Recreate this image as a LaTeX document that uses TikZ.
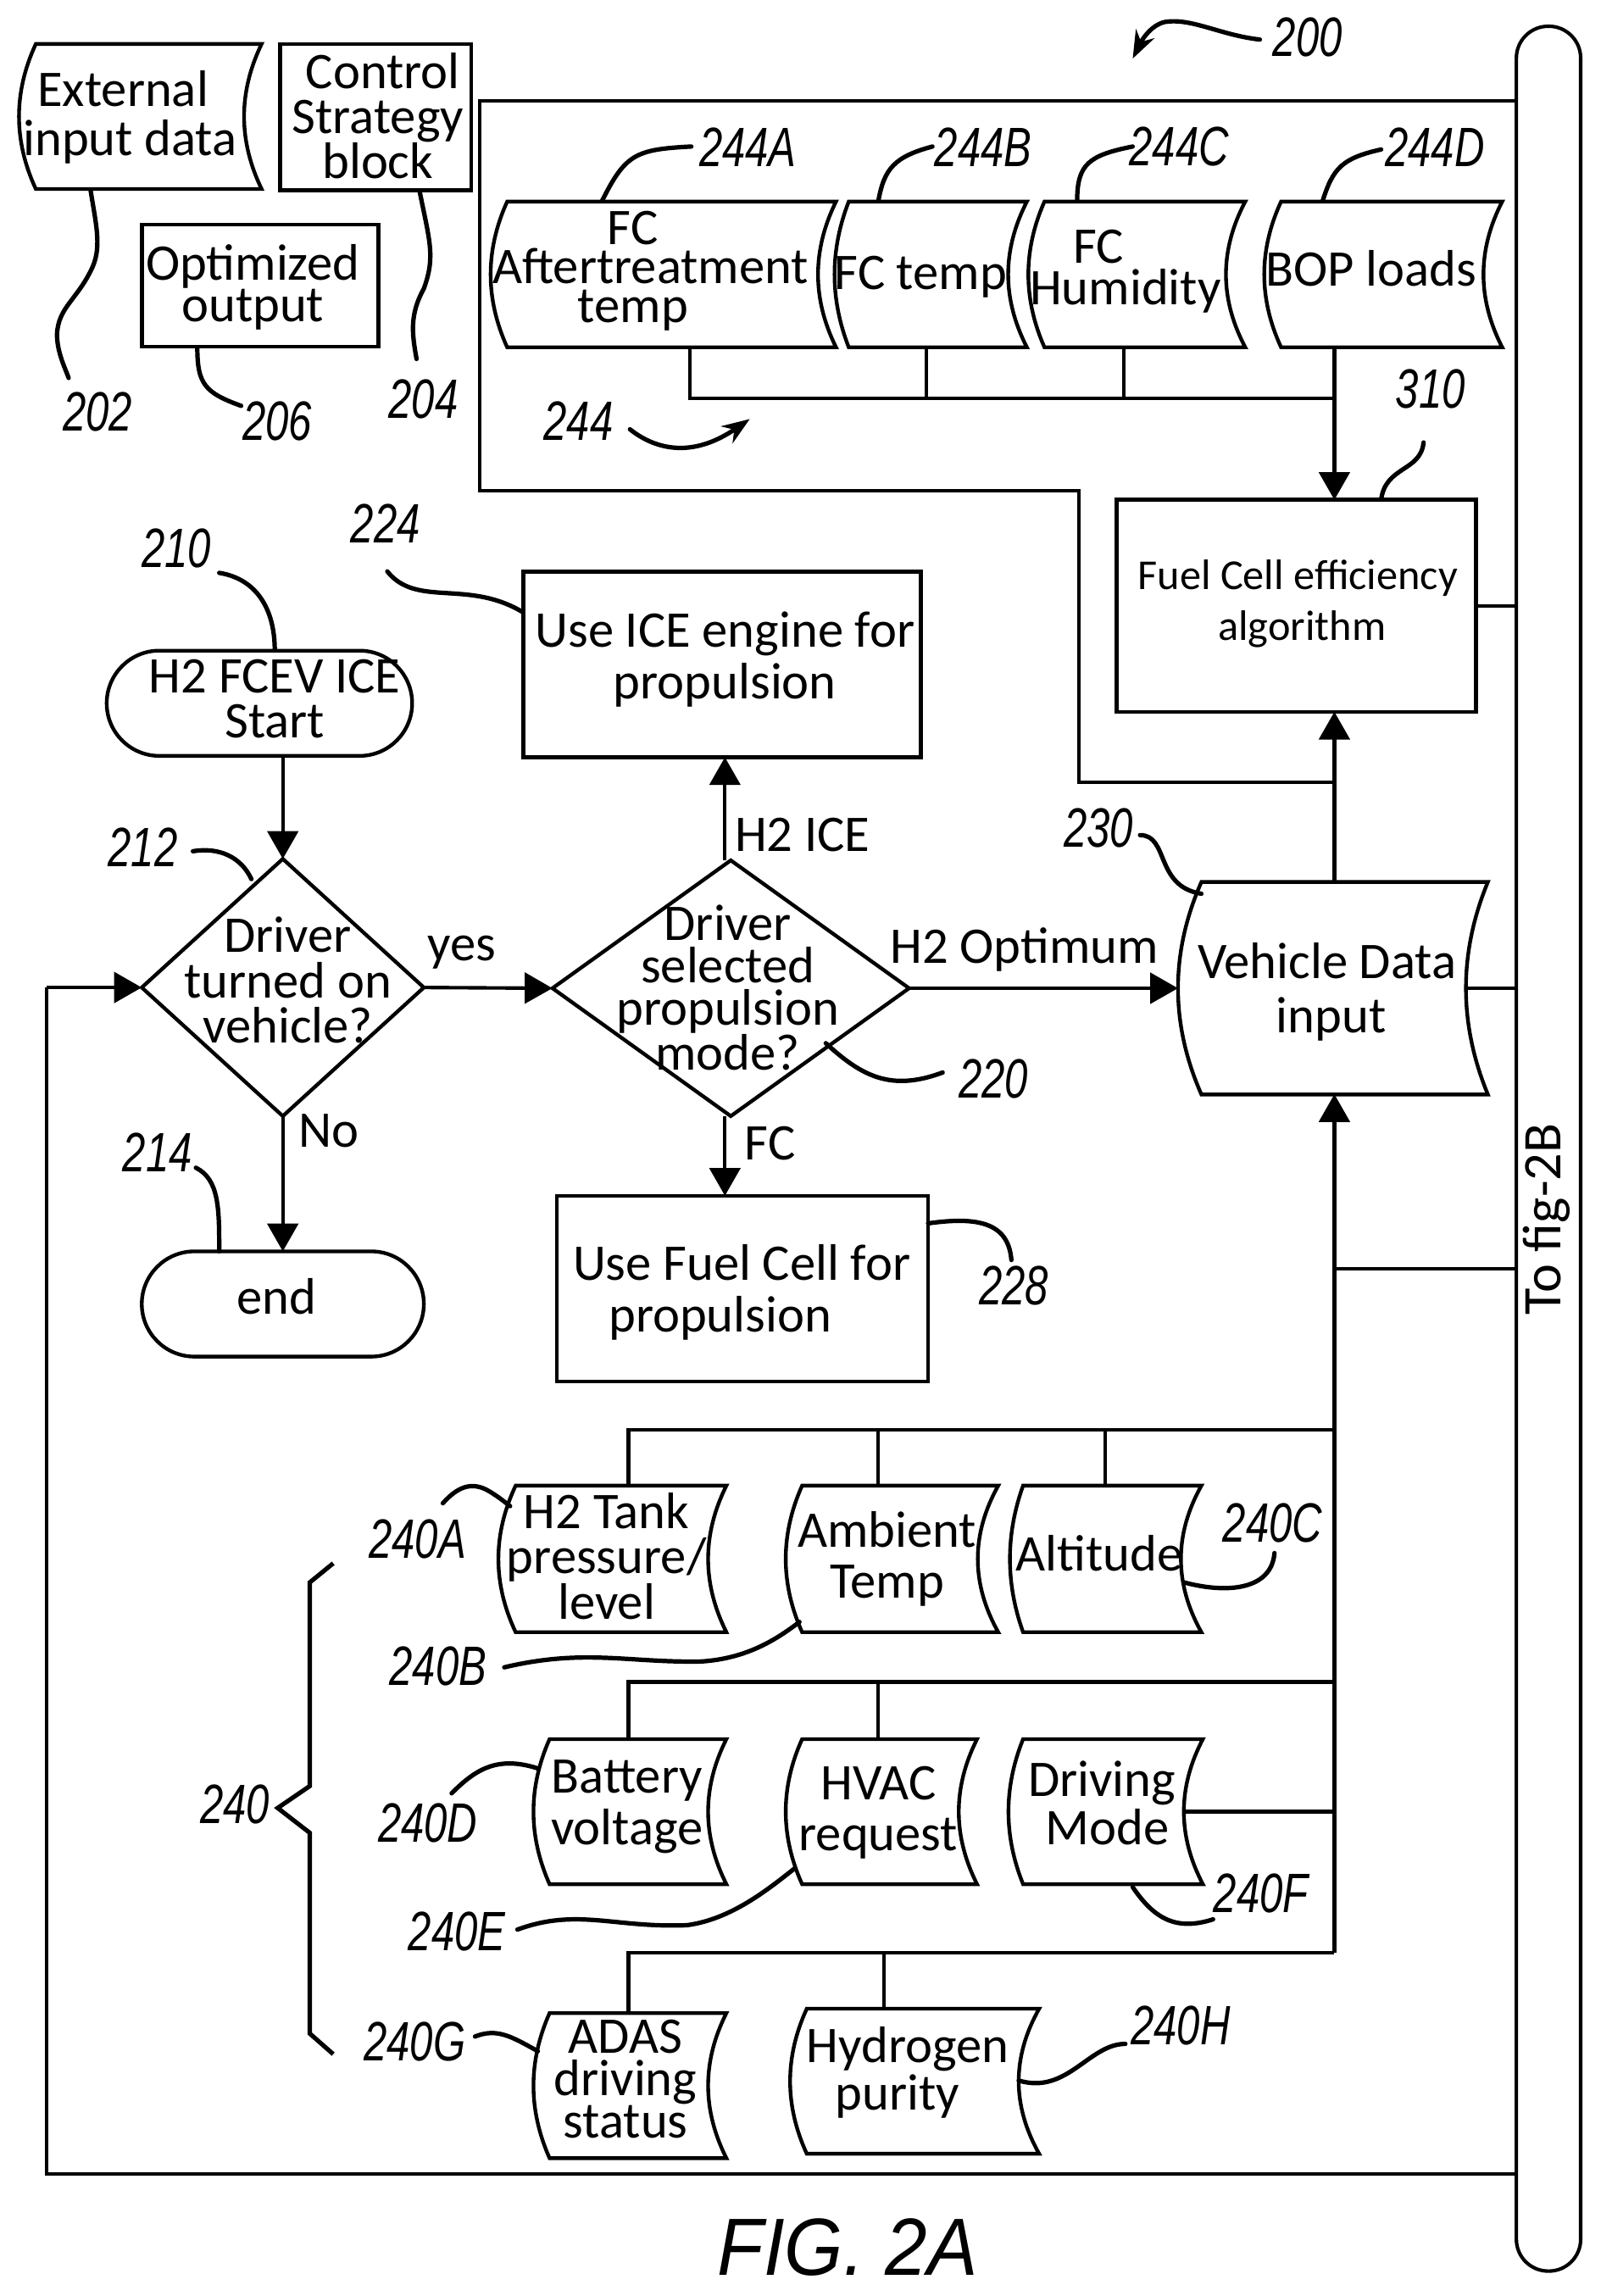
\documentclass[tikz,border=0pt]{standalone}
\usepackage{fontspec}
\usetikzlibrary{arrows.meta,shapes.geometric,shapes.misc}
\setmainfont{Carlito}
\newfontfamily\numf[FakeStretch=0.75]{Liberation Sans}
\newfontfamily\figf[FakeStretch=0.93]{Liberation Sans}
\tikzset{
  x=0.05cm,y=-0.050125cm,
  line/.style={line width=3.4pt,line join=miter},
  arrowline/.style={line,-{Triangle[length=0.95cm,width=1.05cm]}},
  lead/.style={line width=4.3pt,line cap=round},
  tipped/.style={lead,-{Stealth[length=0.95cm,width=0.7cm]}},
  boxn/.style={draw,line width=3.8pt,rectangle,inner sep=0pt,outer sep=0pt},
  pill/.style={draw,line width=3.6pt,rounded rectangle,inner sep=0pt,outer sep=0pt},
  dia/.style={draw,line width=3.6pt,diamond,inner sep=0pt,outer sep=0pt,aspect=1.1},
  docshape/.style={line width=3.6pt,line join=miter},
  hold/.style={rectangle,inner sep=0pt,outer sep=0pt},
  tx/.style 2 args={font=\fontsize{#1}{#2}\selectfont,align=center,inner sep=0pt,outer sep=0pt,yshift=-3pt},
  num/.style={font=\fontsize{54}{54}\selectfont\numf\itshape,inner sep=0pt,outer sep=0pt,xshift=1pt,yshift=1pt},
}
\newcommand\docbox[7]{%
  \node[hold,minimum width={(#5-#2)*0.05cm},minimum height={(#7-#6)*0.05cm}] (#1) at ({(#2+#5)/2},{(#6+#7)/2}) {};
  \draw[docshape] (#3,#6) -- (#4,#6)
    .. controls ({#5+(#4-#5)/3},{#6+(#7-#6)/6}) and (#5,{(#6+#7)/2-(#7-#6)/6}) .. (#5,{(#6+#7)/2})
    .. controls (#5,{(#6+#7)/2+(#7-#6)/6}) and ({#5+(#4-#5)/3},{#7-(#7-#6)/6}) .. (#4,#7)
    -- (#3,#7)
    .. controls ({#2+(#3-#2)/3},{#7-(#7-#6)/6}) and (#2,{(#6+#7)/2+(#7-#6)/6}) .. (#2,{(#6+#7)/2})
    .. controls (#2,{(#6+#7)/2-(#7-#6)/6}) and ({#2+(#3-#2)/3},{#6+(#7-#6)/6}) .. cycle;
}
\newcommand\leader[4]{\coordinate (#1s) at #2; \coordinate (#1e) at #3; \draw[lead] (#1s) #4 (#1e);}
\begin{document}
\begin{tikzpicture}
\path[fill=white,use as bounding box] (0,0) rectangle (1095,1567.1);

% bus
\node[draw,line width=3.4pt,rectangle,rounded corners=1.09cm,minimum width=2.2cm,minimum height=76.8cm,inner sep=0pt,outer sep=0pt] (bus) at (1059.5,784) {};
\node[tx={53}{53},rotate=90] (busT) at (1058,830) {To fig-2B};

% legend
\docbox{ext}{13}{24.5}{179}{167}{30}{129}
\node[tx={50}{48}] (extT) at (89,78) {External\hspace*{14pt}\\input data};
\node[boxn,minimum width=6.55cm,minimum height=5cm] (ctl) at (257,80) {};
\node[tx={50}{44}] (ctlT) at (258.5,77) {\hspace*{10pt}Control\\Strategy\\block};
\node[boxn,minimum width=8.1cm,minimum height=4.17cm] (opt) at (178,195) {};
\node[tx={50}{40}] (optT) at (173,194) {Optimized\\output};

% FC docs
\docbox{fa}{335.7}{347}{572}{559.7}{137.6}{237}
\node[tx={50}{38}] (faT) at (445,183) {FC\hspace*{34pt}\\Aftertreatment\\temp\hspace*{34pt}};
\docbox{ft}{571}{580.7}{702.6}{689.8}{137.6}{237}
\node[tx={50}{47}] (ftT) at (630,187) {FC temp};
\docbox{fh}{703.6}{714.6}{852}{838.8}{137.6}{237}
\node[tx={50}{40}] (fhT) at (770,183) {FC\hspace*{52pt}\\Humidity};
\docbox{bop}{865}{876.5}{1027.8}{1015}{137.6}{237}
\node[tx={50}{47}] (bopT) at (938,181) {BOP loads};

% efficiency block
\node[boxn,minimum width=12.3cm,minimum height=7.25cm] (eff) at (887,413.5) {};
\node[tx={41.5}{50}] (effT) at (888,410) {Fuel Cell efficiency\\\hspace*{8pt}algorithm};

% flow nodes
\node[pill,minimum width=10.45cm,minimum height=3.6cm] (start) at (177.5,480) {};
\node[tx={50}{44}] (startT) at (188,475) {H2 FCEV ICE\\Start};
\node[dia,minimum width=9.65cm,minimum height=8.8cm] (d1) at (193.5,674) {};
\node[tx={50}{44}] (d1T) at (197,667) {Driver\\turned on\\vehicle?};
\node[dia,minimum width=12.2cm,minimum height=8.75cm] (d2) at (500,674.5) {};
\node[tx={50}{41}] (d2T) at (498,672) {Driver\\selected\\propulsion\\mode?};
\node[boxn,minimum width=13.6cm,minimum height=6.35cm] (ice) at (494,453.5) {};
\node[tx={50}{51}] (iceT) at (496,448) {Use ICE engine for\\propulsion};
\node[boxn,minimum width=12.7cm,minimum height=6.35cm] (fcu) at (508,879.5) {};
\node[tx={50}{51}] (fcuT) at (507.5,880) {Use Fuel Cell for\\propulsion\hspace*{42pt}};
\node[pill,minimum width=9.65cm,minimum height=3.6cm] (fin) at (193.5,890) {};
\node[tx={50}{47}] (finT) at (189,883) {end};
\docbox{vd}{806}{822}{1018}{1003}{602}{747}
\node[tx={50}{53}] (vdT) at (908,675) {Vehicle Data\\\hspace*{8pt}input};

% input docs
\docbox{hTank}{341}{352.8}{497}{484.5}{1014}{1114}
\node[tx={50}{44}] (hTankT) at (415,1060) {H2 Tank\\pressure/\\level};
\docbox{amb}{537.6}{548.8}{683}{669}{1014}{1114}
\node[tx={50}{50}] (ambT) at (607,1062) {Ambient\\Temp};
\docbox{alt}{691}{700}{822}{808}{1014}{1114}
\node[tx={50}{47}] (altT) at (752,1058) {Altitude};
\docbox{bat}{365}{376}{497}{484.5}{1187}{1286}
\node[tx={50}{50}] (batT) at (429,1231) {Battery\\voltage};
\docbox{hvac}{537.6}{548.8}{668.5}{656}{1187}{1286}
\node[tx={50}{50}] (hvacT) at (601,1235) {HVAC\\request};
\docbox{drv}{690}{700}{823}{810}{1187}{1286}
\node[tx={50}{47}] (drvT) at (754,1228.5) {Driving\\\hspace*{10pt}Mode};
\docbox{adas}{365}{376}{497}{484.5}{1374}{1473}
\node[tx={50}{41}] (adasT) at (428,1417) {ADAS\\driving\\status};
\docbox{pur}{540.6}{552}{711}{697}{1371}{1470}
\node[tx={50}{46}] (purT) at (621,1412.5) {Hydrogen\\purity\hspace*{20pt}};

% connectors: FC row
\coordinate (busTop) at (328,69);
\coordinate (loopA) at (328,335);
\coordinate (loopB) at (738,335);
\coordinate (loopC) at (738,534);
\coordinate (stem) at (913,534);
\draw[line] (bus.west |- busTop) -- (busTop) -- (loopA) -- (loopB) -- (loopC) -- (stem);
\coordinate (fcBusL) at (472,272);
\coordinate (fcBusB) at (634,272);
\coordinate (fcBusC) at (769,272);
\coordinate (fcBusD) at (913,272);
\draw[line] (fcBusL |- fa.south) -- (fcBusL) -- (fcBusD);
\draw[line] (fcBusB |- ft.south) -- (fcBusB);
\draw[line] (fcBusC |- fh.south) -- (fcBusC);
\draw[arrowline] (fcBusD |- bop.south) -- (fcBusD |- eff.north);
\draw[line] (eff.east) -- (eff.east -| bus.west);
\draw[arrowline] (stem |- vd.north) -- (stem |- eff.south);
\draw[line] (vd.east) -- (vd.east -| bus.west);

% flow connectors
\coordinate (col) at (496,700);
\draw[arrowline] (start.south -| d1.north) -- (d1.north);
\draw[arrowline] (d1.south) -- (fin.north);
\draw[arrowline] (d1.east) -- (d2.west);
\draw[arrowline] (col |- d2.north) -- (col |- ice.south);
\draw[arrowline] (col |- d2.south) -- (col |- fcu.north);
\draw[arrowline] (d2.east) -- (vd.west);
\coordinate (retB) at (32,1484);
\coordinate (retA) at (32,674);
\draw[line] (bus.west |- retB) -- (retB) -- (retA);
\draw[arrowline] (retA) -- (d1.west);
\node[tx={50}{50}] (lblYes) at (316,648) {yes};
\node[tx={50}{50}] (lblIce) at (549,568) {H2 ICE};
\node[tx={50}{50}] (lblNo) at (225,770) {No};
\node[tx={50}{50}] (lblFc) at (527,778) {FC};
\node[tx={50}{50}] (lblOpt) at (701,646) {H2 Optimum};

% input connectors
\coordinate (stemBot) at (913,1333);
\draw[arrowline] (stemBot) -- (stem |- vd.south);
\coordinate (feedA) at (913,866);
\draw[line] (feedA) -- (feedA -| bus.west);
\coordinate (r1L) at (430,976);
\coordinate (r1B) at (601,976);
\coordinate (r1C) at (756,976);
\coordinate (r1R) at (913,976);
\draw[line] (r1R) -- (r1L) -- (r1L |- hTank.north);
\draw[line] (r1B) -- (r1B |- amb.north);
\draw[line] (r1C) -- (r1C |- alt.north);
\coordinate (r2L) at (430,1148);
\coordinate (r2B) at (601,1148);
\coordinate (r2R) at (913,1148);
\draw[line] (r2R) -- (r2L) -- (r2L |- bat.north);
\draw[line] (r2B) -- (r2B |- hvac.north);
\draw[line] (drv.east) -- (drv.east -| r2R);
\coordinate (r3L) at (430,1333);
\coordinate (r3B) at (605,1333);
\draw[line] (stemBot) -- (r3L) -- (r3L |- adas.north);
\draw[line] (r3B) -- (r3B |- pur.north);

% numerals
\node[num] (n200) at (894,26) {200};
\node[num] (n202) at (66,282) {202};
\node[num] (n206) at (189,288) {206};
\node[num] (n204) at (289,273) {204};
\node[num] (n244A) at (511,101) {244A};
\node[num] (n244B) at (672,101) {244B};
\node[num] (n244C) at (806,101) {244C};
\node[num] (n244D) at (981,101) {244D};
\node[num] (n310) at (978,266) {310};
\node[num] (n244) at (395,288) {244};
\node[num] (n210) at (120,375) {210};
\node[num] (n224) at (263,358) {224};
\node[num] (n212) at (97,579) {212};
\node[num] (n230) at (751,566) {230};
\node[num] (n220) at (679,737) {220};
\node[num] (n214) at (107,787) {214};
\node[num] (n228) at (693,878) {228};
\node[num] (n240A) at (285,1051) {240A};
\node[num] (n240B) at (299,1138) {240B};
\node[num] (n240C) at (870,1040) {240C};
\node[num] (n240D) at (292,1245) {240D};
\node[num] (n240E) at (312,1319) {240E};
\node[num] (n240F) at (862,1293) {240F};
\node[num] (n240G) at (283,1394) {240G};
\node[num] (n240H) at (807,1383) {240H};
\node[num] (n240) at (160,1232) {240};
\node[font=\fontsize{79}{79}\selectfont\figf\itshape,inner sep=0pt] (figT) at (580,1534) {FIG. 2A};

% leaders
\coordinate (l200s) at (862,27);
\coordinate (l200e) at (775,40);
\draw[tipped] (l200s) .. controls (835,24) and (815,12) .. (797,15) .. controls (788,17) and (782,26) .. (l200e);
\coordinate (l244s) at (431,293);
\coordinate (l244e) at (513,286);
\draw[tipped] (l244s) .. controls (450,308) and (475,312) .. (l244e);
\leader{L202}{(62,130)}{(47,258)}{.. controls (66,155) and (70,170) .. (62,185) .. controls (52,205) and (40,210) .. (39,228) .. controls (39,240) and (44,250) ..}
\leader{L206}{(135,237)}{(165,277)}{.. controls (135,262) and (140,268) ..}
\leader{L204}{(287,130)}{(285,245)}{.. controls (294,165) and (298,175) .. (290,197) .. controls (280,215) and (282,228) ..}
\leader{L244A}{(473,100)}{(412,137)}{.. controls (435,102) and (428,105) ..}
\leader{L244B}{(638,100)}{(601,137)}{.. controls (612,107) and (605,115) ..}
\leader{L244C}{(775,100)}{(737,137)}{.. controls (745,106) and (737,112) ..}
\leader{L244D}{(945,102)}{(905,137)}{.. controls (918,108) and (912,115) ..}
\leader{L310}{(974,302)}{(945,341)}{.. controls (972,322) and (948,318) ..}
\leader{L210}{(150,391)}{(188,444)}{.. controls (175,395) and (188,415) ..}
\leader{L224}{(265,390)}{(358,418)}{.. controls (285,415) and (320,395) ..}
\leader{L212}{(132,581)}{(172,600)}{.. controls (150,578) and (165,585) ..}
\leader{L230}{(780,570)}{(822,610)}{.. controls (800,570) and (790,605) ..}
\leader{L220}{(645,732)}{(565,712)}{.. controls (610,745) and (590,735) ..}
\leader{L214}{(134,797)}{(150,854)}{.. controls (150,805) and (150,825) ..}
\leader{L228}{(635,835)}{(692,860)}{.. controls (670,830) and (690,835) ..}
\leader{L240A}{(303,1026)}{(349,1028)}{.. controls (312,1016) and (322,1010) .. (335,1018) .. controls (340,1021) and (344,1024) ..}
\leader{L240B}{(345,1138)}{(547,1107)}{.. controls (400,1125) and (430,1135) .. (480,1134) .. controls (510,1132) and (530,1120) ..}
\leader{L240C}{(810,1080)}{(872,1060)}{.. controls (840,1088) and (870,1085) ..}
\leader{L240D}{(309,1224)}{(368,1207)}{.. controls (325,1208) and (340,1198) ..}
\leader{L240E}{(354,1317)}{(544,1275)}{.. controls (395,1302) and (420,1316) .. (470,1314) .. controls (500,1310) and (525,1290) ..}
\leader{L240F}{(775,1288)}{(830,1310)}{.. controls (790,1310) and (805,1318) ..}
\leader{L240G}{(325,1390)}{(368,1400)}{.. controls (340,1384) and (350,1390) ..}
\leader{L240H}{(697,1420)}{(770,1395)}{.. controls (730,1430) and (745,1395) ..}

% brace
\draw[lead,line cap=butt] (228,1067) -- (212,1080) -- (212,1219) -- (190,1234) -- (212,1251) -- (212,1388) -- (228,1402);
\end{tikzpicture}
\end{document}
